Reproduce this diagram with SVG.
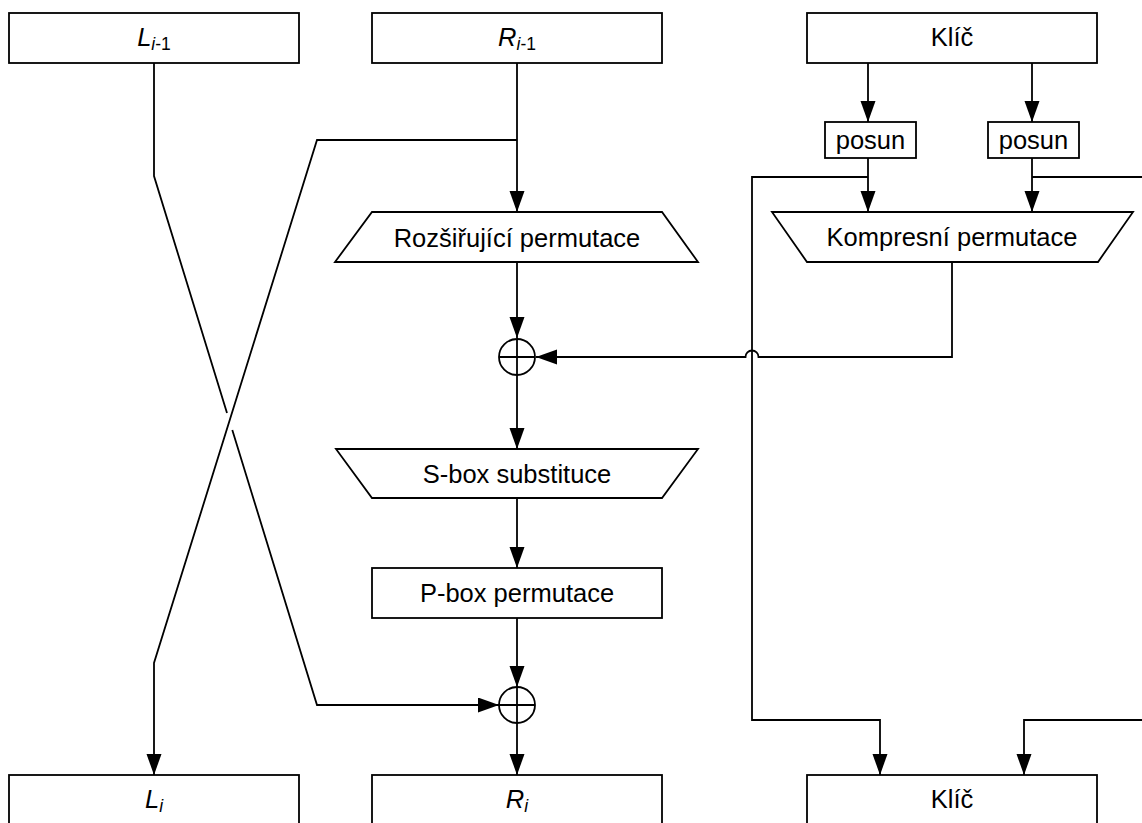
<svg xmlns="http://www.w3.org/2000/svg" width="1142" height="823" viewBox="0 0 1142 823">
  <style>
    .box { fill: #fff; stroke: #000; stroke-width: 1.8; }
    .ln { fill: none; stroke: #000; stroke-width: 1.8; }
    .arr { marker-end: url(#head); }
    text { font-family: "Liberation Sans", Arial, sans-serif; font-size: 25.5px; fill: #000; text-anchor: middle; }
    .var { font-style: italic; }
    .sub { font-size: 17.5px; }
    .up { font-style: normal; }
  </style>
  <defs>
    <marker id="head" markerUnits="userSpaceOnUse" markerWidth="24" markerHeight="16" refX="21" refY="7.5" orient="auto">
      <path d="M0,0 L21,7.5 L0,15 Z" fill="#000"/>
    </marker>
  </defs>
  <rect width="1142" height="823" fill="#fff"/>

  <!-- connectors -->
  <g id="connectors">
    <!-- right half R(i-1) down through the round function -->
    <path class="ln arr" d="M517,63 V212"/>
    <path class="ln arr" d="M517,262 V338"/>
    <path class="ln arr" d="M517,375 V449"/>
    <path class="ln arr" d="M517,498 V568"/>
    <path class="ln arr" d="M517,618 V687"/>
    <path class="ln arr" d="M517,723 V775"/>
    <!-- R(i-1) copy crossing over to L(i) -->
    <path class="ln arr" d="M517,140 H317 L154,663 V775"/>
    <!-- L(i-1) crossing to the second XOR (broken where it passes under) -->
    <path class="ln" d="M154,63 V176 L227,413"/>
    <path class="ln arr" d="M232.3,430 L317,705 H499"/>
    <!-- key schedule -->
    <path class="ln arr" d="M868,63 V122"/>
    <path class="ln arr" d="M1032,63 V122"/>
    <path class="ln arr" d="M868,158 V212"/>
    <path class="ln arr" d="M1032,158 V212"/>
    <path class="ln arr" d="M868,177 H752 V720 H880 V775"/>
    <path class="ln" d="M1032,177 H1142"/>
    <path class="ln arr" d="M1142,720 H1024 V775"/>
    <!-- round subkey into the first XOR, hopping over the key line -->
    <path class="ln arr" d="M952,262 V357 H758.5 A6.5,6.5 0 0 0 745.5,357 H536"/>
  </g>

  <g id="L_prev">
    <rect class="box" x="9" y="13" width="290" height="50"/>
    <text x="154" y="46"><tspan class="var">L</tspan><tspan class="sub var" dy="4">i</tspan><tspan class="sub up">-1</tspan></text>
  </g>
  <g id="R_prev">
    <rect class="box" x="372" y="13" width="290" height="50"/>
    <text x="517" y="46"><tspan class="var">R</tspan><tspan class="sub var" dy="4">i</tspan><tspan class="sub up">-1</tspan></text>
  </g>
  <g id="key_in">
    <rect class="box" x="807" y="13" width="290" height="50"/>
    <text x="952" y="46">Klíč</text>
  </g>
  <g id="shift_left">
    <rect class="box" x="825" y="122" width="91" height="36"/>
    <text x="870.5" y="149">posun</text>
  </g>
  <g id="shift_right">
    <rect class="box" x="988" y="122" width="91" height="36"/>
    <text x="1033.5" y="149">posun</text>
  </g>
  <g id="compression">
    <path class="box" d="M772,212 H1133 L1098,262 H807 Z"/>
    <text x="952" y="246">Kompresní permutace</text>
  </g>
  <g id="expansion">
    <path class="box" d="M372,212 H662 L698,262 H335 Z"/>
    <text x="517" y="247">Rozšiřující permutace</text>
  </g>
  <g id="xor1">
    <circle class="box" cx="517" cy="357" r="18"/>
    <path class="ln" d="M499,357 H535 M517,339 V375"/>
  </g>
  <g id="sbox">
    <path class="box" d="M336,449 H698 L662,498 H372 Z"/>
    <text x="517" y="483">S-box substituce</text>
  </g>
  <g id="pbox">
    <rect class="box" x="372" y="568" width="290" height="50"/>
    <text x="517" y="602">P-box permutace</text>
  </g>
  <g id="xor2">
    <circle class="box" cx="517" cy="705" r="18"/>
    <path class="ln" d="M499,705 H535 M517,687 V723"/>
  </g>
  <g id="L_next">
    <rect class="box" x="9" y="775" width="290" height="50"/>
    <text x="154" y="808"><tspan class="var">L</tspan><tspan class="sub var" dy="4">i</tspan></text>
  </g>
  <g id="R_next">
    <rect class="box" x="372" y="775" width="290" height="50"/>
    <text x="517" y="808"><tspan class="var">R</tspan><tspan class="sub var" dy="4">i</tspan></text>
  </g>
  <g id="key_out">
    <rect class="box" x="807" y="775" width="290" height="50"/>
    <text x="952" y="808">Klíč</text>
  </g>
</svg>
